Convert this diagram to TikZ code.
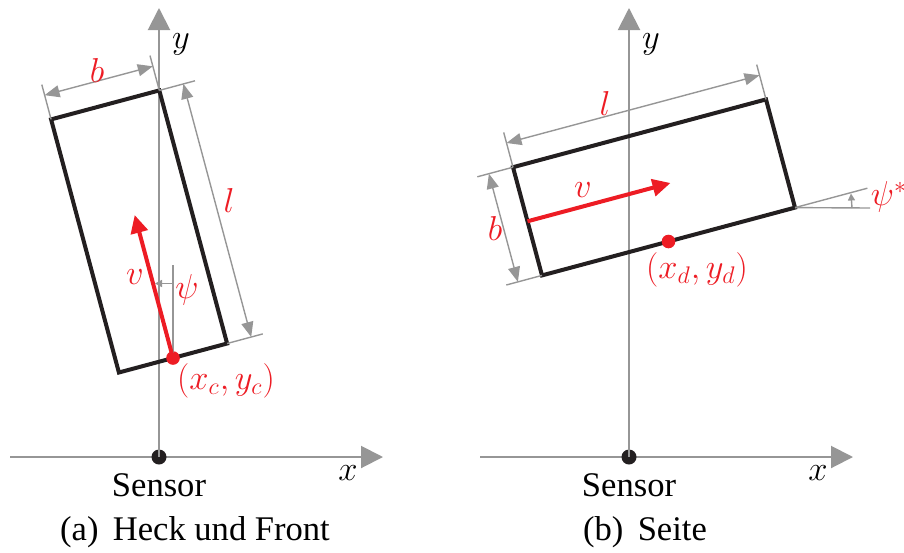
\documentclass[tikz,border=0pt]{standalone}
\usepackage{fontspec}
\setmainfont{Liberation Serif}
\usetikzlibrary{arrows.meta}
\definecolor{axgray}{RGB}{150,150,150}
\definecolor{myred}{RGB}{237,28,36}
\definecolor{myblack}{RGB}{35,31,32}
\begin{document}
\begin{tikzpicture}[x=0.5pt,y=-0.5pt,
  axis/.style={axgray,line width=1pt,-{Triangle[length=11pt,width=11pt]}},
  box/.style={myblack,line width=2pt,line join=miter},
  dimarrow/.style={axgray,line width=0.7pt,{Triangle[length=7.5pt,width=6pt]}-{Triangle[length=7.5pt,width=6pt]}},
  ext/.style={axgray,line width=0.7pt},
  anglearrow/.style={axgray,line width=0.7pt,-{Triangle[length=3.5pt,width=3.5pt]}},
  vel/.style={myred,line width=2pt,-{Triangle[length=9pt,width=8.5pt]}},
  lbl/.style={font=\rmfamily\fontsize{17.28}{21}\selectfont,inner sep=0pt},
  rlbl/.style={lbl,text=myred},
  sensordot/.style={circle,fill=myblack,minimum size=7.5pt,inner sep=0pt},
  refdot/.style={circle,fill=myred,minimum size=6.8pt,inner sep=0pt}]
\path[use as bounding box] (0,0) rectangle (904,552);

% ---------------- left: Heck und Front ----------------
\coordinate (Y1) at (159,8);
\coordinate (XL1) at (10,457);
\coordinate (XR1) at (383,457);
\coordinate (BL1) at (118.9,372.5);
\coordinate (BR1) at (227.1,343.5);
\coordinate (TR1) at (159.3,90.4);
\coordinate (TL1) at (51.1,119.4);
\coordinate (V1) at (134.7,215);
\coordinate (EbA1) at (41.8,84.6);
\coordinate (EbB1) at (150,55.6);
\coordinate (DbA1) at (44.6,95.2);
\coordinate (DbB1) at (152.8,66.3);
\coordinate (ElA1) at (195,80.8);
\coordinate (ElB1) at (262.8,333.9);
\coordinate (DlA1) at (183.4,83.9);
\coordinate (DlB1) at (251.2,337);
\coordinate (PsiTop1) at (173,265);
\coordinate (PsiA1) at (173,283.5);
\coordinate (PsiB1) at (155,283.5);

\draw[axis] (XL1) -- (XR1);
\node[sensordot] (O1) at (159,457) {};
\draw[axis] (O1.center) -- (Y1);
\draw[box] (BL1) -- (BR1) -- (TR1) -- (TL1) -- cycle;
\draw[ext] (TL1) -- (EbA1);
\draw[ext] (TR1) -- (EbB1);
\draw[dimarrow] (DbA1) -- (DbB1);
\draw[ext] (TR1) -- (ElA1);
\draw[ext] (BR1) -- (ElB1);
\draw[dimarrow] (DlA1) -- (DlB1);
\node[refdot] (P1) at (173,358) {};
\draw[ext] (P1.center) -- (PsiTop1);
\draw[anglearrow] (PsiA1) -- (PsiB1);
\draw[vel] (P1.center) -- (V1);

\node[lbl] (ylab1) at (181,44) {$y$};
\node[lbl] (xlab1) at (348,473) {$x$};
\node[lbl,anchor=base] (sens1) at (159,496) {\textrm{Sensor}};
\node[lbl,anchor=base] (cap1) at (195,540) {\textrm{(a)\, Heck und Front}};
\node[rlbl] (blab1) at (97,70) {$b$};
\node[rlbl] (llab1) at (229,200) {$l$};
\node[rlbl] (vlab1) at (135,277) {$v$};
\node[rlbl] (psilab1) at (187,290) {$\psi$};
\node[rlbl] (plab1) at (226,381) {$(x_c,y_c)$};

% ---------------- right: Seite ----------------
\coordinate (Y2) at (629,8);
\coordinate (XL2) at (480,457);
\coordinate (XR2) at (853,457);
\coordinate (BL2) at (542,275.4);
\coordinate (BR2) at (795,207.6);
\coordinate (TR2) at (766,99.4);
\coordinate (TL2) at (513,167.2);
\coordinate (M2) at (527.5,221.3);
\coordinate (V2) at (670.5,183);
\coordinate (ElA2) at (503.7,132.4);
\coordinate (ElB2) at (756.7,64.6);
\coordinate (DlA2) at (506.5,143);
\coordinate (DlB2) at (759.5,75.3);
\coordinate (EbA2) at (477.3,176.8);
\coordinate (EbB2) at (506.3,285);
\coordinate (DbA2) at (488.9,173.7);
\coordinate (DbB2) at (517.9,281.9);
\coordinate (H2) at (870,208);
\coordinate (S2) at (867.4,188.2);
\coordinate (PsiA2) at (852,208);
\coordinate (PsiB2) at (851,193.5);

\draw[axis] (XL2) -- (XR2);
\node[sensordot] (O2) at (629,457) {};
\draw[axis] (O2.center) -- (Y2);
\draw[box] (BL2) -- (BR2) -- (TR2) -- (TL2) -- cycle;
\draw[ext] (TL2) -- (ElA2);
\draw[ext] (TR2) -- (ElB2);
\draw[dimarrow] (DlA2) -- (DlB2);
\draw[ext] (TL2) -- (EbA2);
\draw[ext] (BL2) -- (EbB2);
\draw[dimarrow] (DbA2) -- (DbB2);
\draw[ext] (BR2) -- (H2);
\draw[ext] (BR2) -- (S2);
\draw[anglearrow] (PsiA2) -- (PsiB2);
\draw[vel] (M2) -- (V2);
\node[refdot] (P2) at (668.5,241.5) {};

\node[lbl] (ylab2) at (651,44) {$y$};
\node[lbl] (xlab2) at (818,473) {$x$};
\node[lbl,anchor=base] (sens2) at (629,496) {\textrm{Sensor}};
\node[lbl,anchor=base] (cap2) at (645,540) {\textrm{(b)\, Seite}};
\node[rlbl] (llab2) at (605,103) {$l$};
\node[rlbl] (blab2) at (495,228) {$b$};
\node[rlbl] (vlab2) at (583,190) {$v$};
\node[rlbl] (psilab2) at (889,197) {$\psi^*$};
\node[rlbl] (plab2) at (697,270) {$(x_d,y_d)$};
\end{tikzpicture}
\end{document}
